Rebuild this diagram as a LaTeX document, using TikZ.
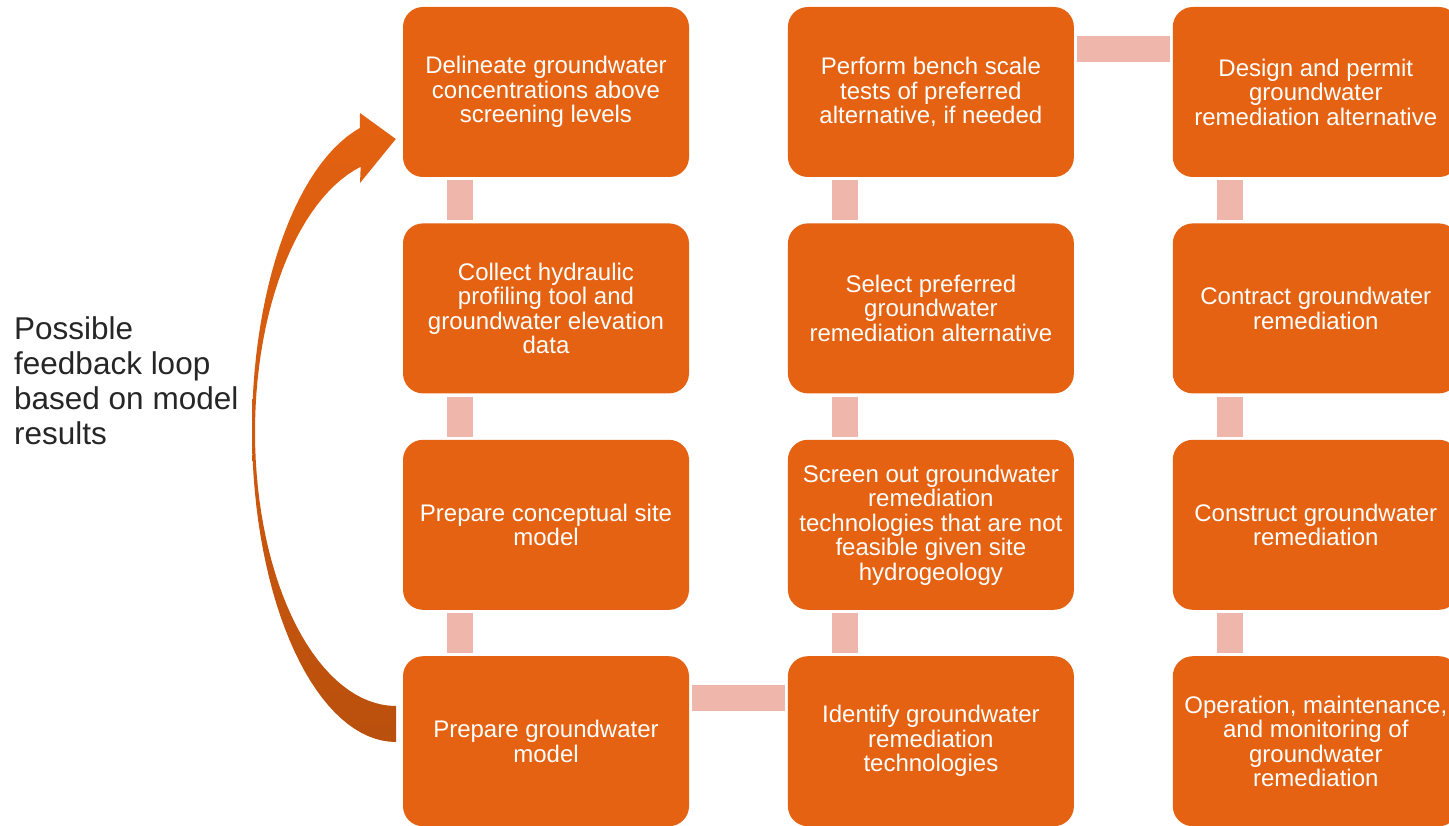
\documentclass[tikz,border=0pt]{standalone}
\usepackage{fontspec}
\setmainfont{Liberation Sans}
\usepackage{tikz}
\usetikzlibrary{positioning}
\definecolor{boxorange}{RGB}{228,98,17}
\definecolor{arrowdark}{RGB}{185,80,13}
\definecolor{linkpink}{RGB}{239,183,171}
\definecolor{textgray}{RGB}{38,38,38}

\begin{document}
\begin{tikzpicture}[x=1pt, y=-1pt,
				roundbox/.style={rectangle, rounded corners=20pt, fill=boxorange, text=white, minimum width=286pt, minimum height=170pt, inner sep=0pt, align=center, font=\fontsize{24}{24.5}\selectfont},
				link/.style={draw=linkpink, line width=26pt, shorten <=3pt, shorten >=3pt},
				node distance=46pt and 98.5pt,
				]
				\useasboundingbox (0,0) rectangle (1449,826);
				\clip (0,0) rectangle (1449,826);

				%Nodes
				\node[roundbox]	(a1) at (546,92)	{Delineate groundwater\\concentrations above\\screening levels};
				\node[roundbox]	(a2) [below=of a1]	{Collect hydraulic\\profiling tool and\\groundwater elevation\\data};
				\node[roundbox]	(a3) [below=of a2]	{Prepare conceptual site\\model};
				\node[roundbox]	(a4) [below=of a3]	{Prepare groundwater\\model};
				\node[roundbox]	(b4) [right=of a4]	{Identify groundwater\\remediation\\technologies};
				\node[roundbox]	(b3) [above=of b4]	{Screen out groundwater\\remediation\\technologies that are not\\feasible given site\\hydrogeology};
				\node[roundbox]	(b2) [above=of b3]	{Select preferred\\groundwater\\remediation alternative};
				\node[roundbox]	(b1) [above=of b2]	{Perform bench scale\\tests of preferred\\alternative, if needed};
				\node[roundbox]	(c1) [right=of b1]	{Design and permit\\groundwater\\remediation alternative};
				\node[roundbox]	(c2) [below=of c1]	{Contract groundwater\\remediation};
				\node[roundbox]	(c3) [below=of c2]	{Construct groundwater\\remediation};
				\node[roundbox]	(c4) [below=of c3]	{Operation, maintenance,\\and monitoring of\\groundwater\\remediation};

				\node[anchor=west, inner sep=0pt, align=left, text=textgray, font=\fontsize{31.5}{35}\selectfont] (loop) at (14,381) {Possible\\feedback loop\\based on model\\results};

				%Lines
				\draw[link] ([xshift=57pt]a1.south west) -- ([xshift=57pt]a2.north west);
				\draw[link] ([xshift=57pt]a2.south west) -- ([xshift=57pt]a3.north west);
				\draw[link] ([xshift=57pt]a3.south west) -- ([xshift=57pt]a4.north west);
				\draw[link] ([yshift=-42pt]a4.north east) -- ([yshift=-42pt]b4.north west);
				\draw[link] ([xshift=57pt]b4.north west) -- ([xshift=57pt]b3.south west);
				\draw[link] ([xshift=57pt]b3.north west) -- ([xshift=57pt]b2.south west);
				\draw[link] ([xshift=57pt]b2.north west) -- ([xshift=57pt]b1.south west);
				\draw[link] ([yshift=-42pt]b1.north east) -- ([yshift=-42pt]c1.north west);
				\draw[link] ([xshift=57pt]c1.south west) -- ([xshift=57pt]c2.north west);
				\draw[link] ([xshift=57pt]c2.south west) -- ([xshift=57pt]c3.north west);
				\draw[link] ([xshift=57pt]c3.south west) -- ([xshift=57pt]c4.north west);

				%Feedback arrow
				\coordinate (tip) at ([xshift=-7pt, yshift=-47pt]a1.west);
				\shade[top color=boxorange, bottom color=arrowdark]
					plot[domain=270:104.5, samples=60, variable=\t] ({396+144*cos(\t)}, {430-312*sin(\t)})
					-- (360,113) -- (tip) -- (360,183)
					-- plot[domain=104.5:270, samples=60, variable=\t] ({396+141*cos(\t)}, {432-274*sin(\t)})
					-- cycle;
			\end{tikzpicture}
\end{document}
